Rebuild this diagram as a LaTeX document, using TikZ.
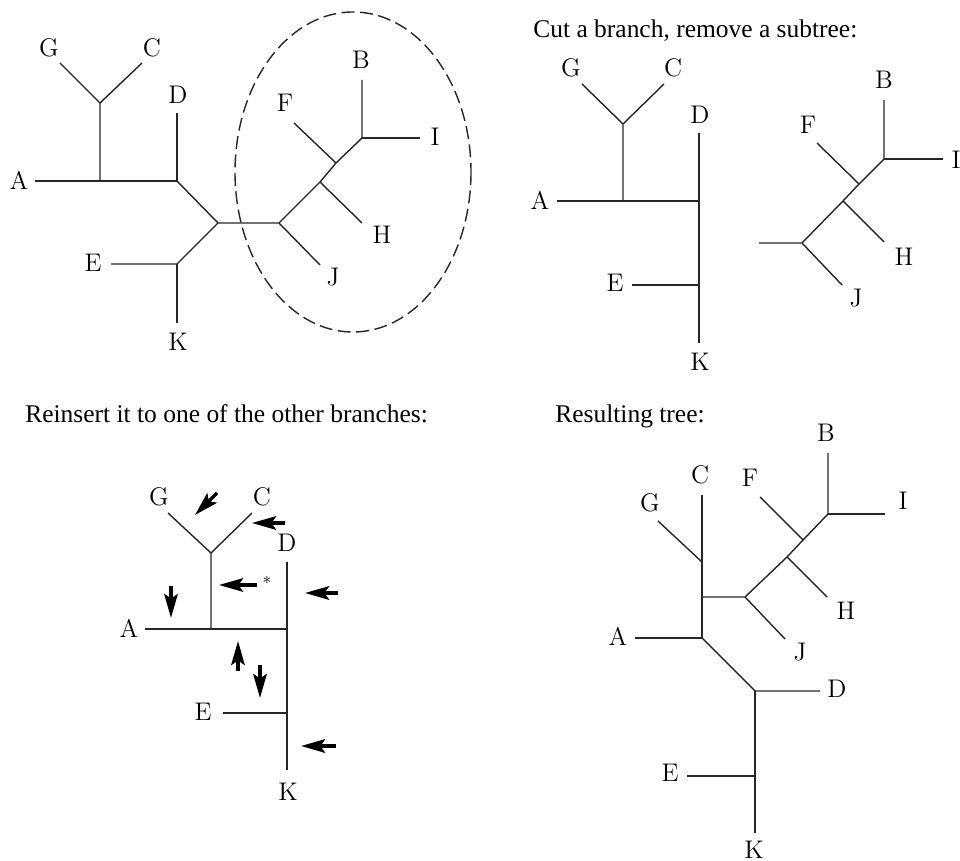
\documentclass[tikz,border=0pt]{standalone}
\usepackage{fontspec}
\newfontfamily\capfont{Liberation Serif}
\usetikzlibrary{arrows.meta}

\tikzset{
    br/.style={line width=0.8pt, black!85},
    leaf/.style={font=\fontsize{14.5}{16}\selectfont, inner sep=0pt},
    heading/.style={font=\capfont\fontsize{14.5}{16}\selectfont, anchor=base west, inner sep=0pt},
    hint/.style={-{Stealth[length=4.8mm,width=2.7mm,inset=0.9mm]}, line width=2pt},
}

\begin{document}
\begin{tikzpicture}[x=0.02cm, y=-0.02cm]
        \useasboundingbox (0,0) rectangle (960,861);

        % Original tree (top left)
        \coordinate (oA) at (35,181);   \coordinate (oX) at (100,181);
        \coordinate (oY) at (177,181);  \coordinate (oGC) at (100,103);
        \coordinate (oG) at (60,63);    \coordinate (oC) at (142,63);
        \coordinate (oD) at (177,113);  \coordinate (oM) at (218,223);
        \coordinate (oS) at (279,223);  \coordinate (oEK) at (177,264);
        \coordinate (oE) at (111,264);  \coordinate (oK) at (177,323);
        \coordinate (oJ) at (320,265);  \coordinate (oHn) at (320,182);
        \coordinate (oH) at (362,223);  \coordinate (oFn) at (336,163);
        \coordinate (oF) at (294,123);  \coordinate (oBI) at (362,138);
        \coordinate (oB) at (362,80);   \coordinate (oI) at (420,138);
        \draw[br] (oA) -- (oY) -- (oD);
        \draw[br] (oX) -- (oGC) -- (oG);
        \draw[br] (oGC) -- (oC);
        \draw[br] (oY) -- (oM) -- (oS) -- (oJ);
        \draw[br] (oM) -- (oEK) -- (oE);
        \draw[br] (oEK) -- (oK);
        \draw[br] (oS) -- (oHn) -- (oFn) -- (oBI) -- (oB);
        \draw[br] (oBI) -- (oI);
        \draw[br] (oHn) -- (oH);
        \draw[br] (oFn) -- (oF);
        \node[leaf] (oLA) at (19,180) {A};
        \node[leaf] (oLG) at (49,48) {G};
        \node[leaf] (oLC) at (152,48) {C};
        \node[leaf] (oLD) at (178,95) {D};
        \node[leaf] (oLE) at (93,263) {E};
        \node[leaf] (oLK) at (178,342) {K};
        \node[leaf] (oLJ) at (333,277) {J};
        \node[leaf] (oLH) at (382,235) {H};
        \node[leaf] (oLF) at (285,103) {F};
        \node[leaf] (oLB) at (361,60) {B};
        \node[leaf] (oLI) at (435,137) {I};
        % subtree to be cut
        \draw[line width=0.8pt, black!85, dash pattern=on 2.6mm off 1.1mm]
            (353,172) ellipse [x radius=118, y radius=160];

        % Cut subtree (top right)
        \node[heading] (cTitle) at (533,38) {Cut a branch, remove a subtree:};
        \coordinate (cA) at (557,201);  \coordinate (cX) at (623,201);
        \coordinate (cY) at (699,201);  \coordinate (cGC) at (623,124);
        \coordinate (cG) at (582,84);   \coordinate (cC) at (664,84);
        \coordinate (cD) at (699,133);  \coordinate (cEK) at (699,285);
        \coordinate (cE) at (632,285);  \coordinate (cK) at (699,343);
        \coordinate (cS) at (802,243);  \coordinate (cR) at (759,243);
        \coordinate (cJ) at (842,285);  \coordinate (cHn) at (843,201);
        \coordinate (cH) at (884,242);  \coordinate (cFn) at (859,184);
        \coordinate (cF) at (817,143);  \coordinate (cBI) at (884,159);
        \coordinate (cB) at (884,100);  \coordinate (cI) at (943,159);
        \draw[br] (cA) -- (cY);
        \draw[br] (cD) -- (cK);
        \draw[br] (cX) -- (cGC) -- (cG);
        \draw[br] (cGC) -- (cC);
        \draw[br] (cE) -- (cEK);
        \draw[br] (cR) -- (cS) -- (cJ);
        \draw[br] (cS) -- (cHn) -- (cFn) -- (cBI) -- (cB);
        \draw[br] (cBI) -- (cI);
        \draw[br] (cHn) -- (cH);
        \draw[br] (cFn) -- (cF);
        \node[leaf] (cLA) at (540,200) {A};
        \node[leaf] (cLG) at (571,68) {G};
        \node[leaf] (cLC) at (673,68) {C};
        \node[leaf] (cLD) at (700,115) {D};
        \node[leaf] (cLE) at (615,283) {E};
        \node[leaf] (cLK) at (700,362) {K};
        \node[leaf] (cLJ) at (856,298) {J};
        \node[leaf] (cLH) at (904,257) {H};
        \node[leaf] (cLF) at (808,125) {F};
        \node[leaf] (cLB) at (884,80) {B};
        \node[leaf] (cLI) at (956,160) {I};

        % Places to reinsert (bottom left)
        \node[heading] (rTitle) at (25,422) {Reinsert it to one of the other branches:};
        \coordinate (rA) at (145,629);  \coordinate (rX) at (211,629);
        \coordinate (rY) at (287,629);  \coordinate (rGC) at (211,553);
        \coordinate (rG) at (168,513);  \coordinate (rC) at (252,513);
        \coordinate (rD) at (287,562);  \coordinate (rEK) at (287,713);
        \coordinate (rE) at (223,713);  \coordinate (rK) at (287,770);
        \draw[br] (rA) -- (rY);
        \draw[br] (rD) -- (rK);
        \draw[br] (rX) -- (rGC) -- (rG);
        \draw[br] (rGC) -- (rC);
        \draw[br] (rE) -- (rEK);
        \node[leaf] (rLA) at (129,628) {A};
        \node[leaf] (rLG) at (159,497) {G};
        \node[leaf] (rLC) at (262,497) {C};
        \node[leaf] (rLD) at (287,543) {D};
        \node[leaf] (rLE) at (203,712) {E};
        \node[leaf] (rLK) at (288,792) {K};
        \node[inner sep=0pt, font=\normalsize] (rStar) at (267,583) {*};
        % arrows onto the branches
        \foreach \sx/\sy/\ex/\ey in {217/493/195/515, 285/523/252/523,
                257/585/219/585, 338/593/305/593, 171/586/171/618,
                238/671/238/641, 260/665/260/698, 336/746/301/746}
            \draw[hint] (\sx,\sy) -- (\ex,\ey);

        % Resulting tree (bottom right)
        \node[heading] (nTitle) at (555,422) {Resulting tree:};
        \coordinate (nA) at (635,638);  \coordinate (nX) at (702,638);
        \coordinate (nS) at (702,597);  \coordinate (nGC) at (702,562);
        \coordinate (nC) at (702,495);  \coordinate (nG) at (658,521);
        \coordinate (nT) at (745,597);  \coordinate (nJ) at (785,639);
        \coordinate (nHn) at (787,557); \coordinate (nH) at (827,597);
        \coordinate (nFn) at (803,540); \coordinate (nF) at (760,497);
        \coordinate (nBI) at (828,514); \coordinate (nB) at (828,453);
        \coordinate (nI) at (885,514);  \coordinate (nDn) at (755,691);
        \coordinate (nD) at (820,691);  \coordinate (nEK) at (755,776);
        \coordinate (nE) at (687,776);  \coordinate (nK) at (755,833);
        \draw[br] (nA) -- (nX) -- (nC);
        \draw[br] (nGC) -- (nG);
        \draw[br] (nS) -- (nT) -- (nJ);
        \draw[br] (nT) -- (nHn) -- (nFn) -- (nBI) -- (nB);
        \draw[br] (nBI) -- (nI);
        \draw[br] (nHn) -- (nH);
        \draw[br] (nFn) -- (nF);
        \draw[br] (nX) -- (nDn) -- (nD);
        \draw[br] (nDn) -- (nK);
        \draw[br] (nE) -- (nEK);
        \node[leaf] (nLA) at (618,636) {A};
        \node[leaf] (nLG) at (650,503) {G};
        \node[leaf] (nLC) at (700,475) {C};
        \node[leaf] (nLF) at (750,478) {F};
        \node[leaf] (nLB) at (826,433) {B};
        \node[leaf] (nLI) at (903,501) {I};
        \node[leaf] (nLH) at (846,611) {H};
        \node[leaf] (nLJ) at (800,652) {J};
        \node[leaf] (nLD) at (837,689) {D};
        \node[leaf] (nLE) at (670,773) {E};
        \node[leaf] (nLK) at (754,850) {K};

    \end{tikzpicture}
\end{document}
